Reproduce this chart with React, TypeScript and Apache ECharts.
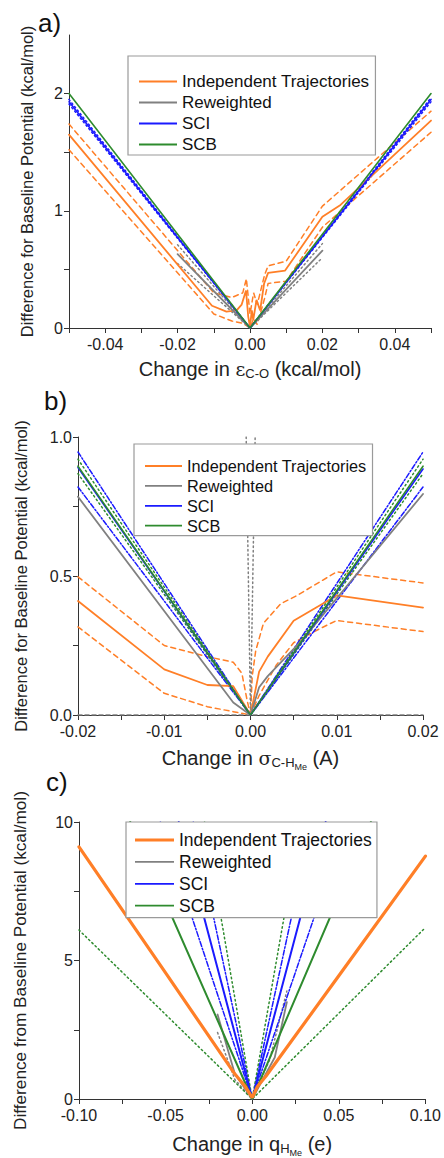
import React, { useEffect, useRef } from "react";
import * as echarts from "echarts";

// ---------- panel a: change in epsilon C-O ----------
const aItX = [-0.05, -0.0105, -0.0065, -0.0037, -0.0023, -0.0011, -0.0005, 0, 0.0005, 0.0009, 0.0018, 0.0028, 0.0039, 0.005, 0.0097, 0.02, 0.025, 0.05];
const aItY = [1.65, 0.19, 0.14, 0.15, 0.2, 0.32, 0.1, 0.01, 0.15, 0.07, 0.24, 0.15, 0.38, 0.47, 0.49, 0.95, 1.05, 1.77];
const aItHiX = [-0.05, -0.01, -0.005, -0.002, -0.001, 0, 0.001, 0.002, 0.004, 0.005, 0.01, 0.02, 0.05];
const aItHiY = [1.74, 0.3, 0.26, 0.3, 0.42, 0.12, 0.3, 0.2, 0.45, 0.53, 0.57, 1.04, 1.85];
const aItLoX = [-0.05, -0.01, -0.005, -0.002, 0, 0.001, 0.002, 0.004, 0.005, 0.01, 0.02, 0.05];
const aItLoY = [1.52, 0.12, 0.06, 0.04, 0, 0.08, 0.03, 0.25, 0.38, 0.4, 0.86, 1.67];
const aRwX = [-0.02, 0, 0.02];
const aRwY = [0.63, 0, 0.66];
const aRwHiY = [0.71, 0, 0.72];
const aRwLoY = [0.55, 0, 0.6];
const aScX = [-0.05, 0, 0.05];
const aSciY = [1.93, 0, 1.95];
const aSciHiY = [1.95, 0, 1.965];
const aSciLoY = [1.91, 0, 1.93];
const aScbY = [2.0, 0, 2.0];
const aXMajor = [-0.04, -0.02, 0, 0.02, 0.04];
const aXTicks = [-0.05, -0.04, -0.03, -0.02, -0.01, 0, 0.01, 0.02, 0.03, 0.04, 0.05];
const aYMajor = [0, 1, 2];
const aYTicks = [0, 0.5, 1, 1.5, 2];

// ---------- panel b: change in sigma C-H(Me) ----------
const bItX = [-0.02, -0.01, -0.005, -0.002, 0, 0.001, 0.002, 0.005, 0.01, 0.02];
const bItY = [0.41, 0.164, 0.108, 0.104, 0, 0.156, 0.21, 0.339, 0.43, 0.386];
const bItHiX = [-0.02, -0.01, -0.005, -0.002, -0.001, -0.0004, 0, 0.0002, 0.0006, 0.0015, 0.0035, 0.0054, 0.01, 0.02];
const bItHiY = [0.497, 0.25, 0.21, 0.19, 0.15, 0.054, 0, 0.14, 0.23, 0.33, 0.4, 0.43, 0.515, 0.475];
const bItLoX = [-0.02, -0.01, -0.005, -0.002, 0, 0.001, 0.003, 0.005, 0.008, 0.01, 0.02];
const bItLoY = [0.317, 0.078, 0.03, 0.012, 0, 0.07, 0.18, 0.26, 0.31, 0.34, 0.3];
const bRwX = [-0.02, -0.002, 0, 0.001, 0.002, 0.006, 0.01, 0.02];
const bRwY = [0.785, 0.045, 0, 0.1, 0.14, 0.27, 0.42, 0.795];
const bRwHiX = [-0.0005, 0, 0.00054];
const bRwHiY = [1.0, 0, 1.0];
const bRwLoX = [-0.02, 0, 0.02];
const bRwLoY = [0, 0, 0];
const bScX = [-0.02, 0, 0.02];
const bSciY = [0.89, 0, 0.885];
const bSciHiY = [0.946, 0, 0.946];
const bSciLoY = [0.82, 0, 0.82];
const bScbY = [0.895, 0, 0.895];
const bScbHiY = [0.92, 0, 0.92];
const bScbLoY = [0.868, 0, 0.868];
const bXMajor = [-0.02, -0.01, 0, 0.01, 0.02];
const bXTicks = [-0.02, -0.015, -0.01, -0.005, 0, 0.005, 0.01, 0.015, 0.02];
const bYMajor = [0, 0.5, 1.0];
const bYTicks = [0, 0.25, 0.5, 0.75, 1.0];

// ---------- panel c: change in q H(Me) ----------
const cItX = [-0.1, -0.05, -0.01, -0.004, 0, 0.003, 0.008, 0.05, 0.1];
const cItY = [9.1, 4.55, 0.9, 0.45, 0.05, 0.45, 0.83, 4.45, 8.77];
const cRwX = [-0.02, -0.01, 0, 0.013, 0.02];
const cRwY = [3.05, 0.9, 0, 1.5, 3.5];
const cRwHiX = [-0.02, -0.01, 0, 0.01, 0.02];
const cRwHiY = [2.4, 0.7, 0, 1.4, 3.9];
const cSciX = [-0.0424, 0, 0.0424];
const cSciY = [10, 0, 10];
const cSciHiX = [-0.034, 0, 0.0345];
const cSciHiY = [10, 0, 10];
const cSciLoX = [-0.053, 0, 0.0545];
const cSciLoY = [10, 0, 10];
const cScbX = [-0.0704, 0, 0.0685];
const cScbY = [10, 0, 10];
const cScbHiX = [-0.0275, 0, 0.028];
const cScbHiY = [10, 0, 10];
const cScbLoX = [-0.1, 0, 0.1];
const cScbLoY = [6.1, 0, 6.19];
const cXMajor = [-0.1, -0.05, 0, 0.05, 0.1];
const cXTicks = [-0.1, -0.075, -0.05, -0.025, 0, 0.025, 0.05, 0.075, 0.1];
const cYMajor = [0, 5, 10];
const cYTicks = [0, 2.5, 5, 7.5, 10];

const NAMES = ["Independent Trajectories", "Reweighted", "SCI", "SCB"];
const ORANGE = "#ff7f27";
const GRAY = "#808080";
const BLUE = "#1a1aff";
const GREEN = "#2e8b2e";
const AXIS = "#333";
const FONT = '"Liberation Sans", Arial, sans-serif';

const DASH = [5, 4];
const DOT = [1.5, 3];
const DASHDOT = [5, 2, 1.5, 2];

const pts = (xs: number[], ys: number[]) => xs.map((x, i) => [x, ys[i]]);

function line(name: string, g: number, xs: number[], ys: number[], color: string, width: number, type: any, z = 2) {
  return {
    type: "line",
    name,
    xAxisIndex: g,
    yAxisIndex: g,
    data: pts(xs, ys),
    symbol: "none",
    showSymbol: false,
    silent: true,
    z,
    lineStyle: { color, width, type, cap: "round" },
    itemStyle: { color },
  };
}

function xAxis(g: number, min: number, max: number, ticks: number[], major: number[], name: string, rich: any, gap: number) {
  return {
    type: "value",
    gridIndex: g,
    min,
    max,
    splitLine: { show: false },
    axisLine: { show: true, onZero: false, lineStyle: { color: AXIS, width: 1 } },
    axisTick: { show: true, customValues: ticks, length: 5, lineStyle: { color: AXIS } },
    axisLabel: {
      customValues: major,
      fontFamily: FONT,
      fontSize: 16,
      color: "#222",
      margin: 8,
      formatter: (v: number) => v.toFixed(2),
    },
    name,
    nameLocation: "middle",
    nameGap: gap,
    nameTextStyle: { fontFamily: FONT, fontSize: 20, color: "#222", rich },
  };
}

function yAxis(g: number, min: number, max: number, ticks: number[], major: number[], digits: number, name: string, size: number, gap: number) {
  return {
    type: "value",
    gridIndex: g,
    min,
    max,
    splitLine: { show: false },
    axisLine: { show: true, onZero: false, lineStyle: { color: AXIS, width: 1 } },
    axisTick: { show: true, customValues: ticks, length: 5, lineStyle: { color: AXIS } },
    axisLabel: {
      customValues: major,
      fontFamily: FONT,
      fontSize: 16,
      color: "#222",
      margin: 6,
      formatter: (v: number) => v.toFixed(digits),
    },
    name,
    nameLocation: "middle",
    nameRotate: 90,
    nameGap: gap,
    nameTextStyle: { fontFamily: FONT, fontSize: size, color: "#222" },
  };
}

// legend swatch: a plain horizontal stroke, no marker
const swatch = (w: number, h: number) => `path://M0,0H${w}V${h}H0Z`;

function legend(left: number, top: number, pad: number[], gap: number, fontSize: number, itemWidth: number, rowH: number, thickOrange: boolean) {
  return {
    orient: "vertical",
    left,
    top,
    padding: pad,
    itemGap: gap,
    itemWidth,
    itemHeight: rowH,
    backgroundColor: "#fff",
    borderColor: "#9a9a9a",
    borderWidth: 1.2,
    borderRadius: 0,
    selectedMode: false,
    z: 10,
    textStyle: { fontFamily: FONT, fontSize, color: "#111", lineHeight: rowH },
    data: NAMES.map((n, i) => ({
      name: n,
      icon: swatch(itemWidth, i === 0 && thickOrange ? 3.2 : 1.8),
    })),
  };
}

const subRich = {
  g: { fontFamily: '"DejaVu Serif", serif', fontSize: 19, color: "#222" },
  s: { fontFamily: FONT, fontSize: 13, color: "#222", padding: [9, 0, 0, 0] },
  ss: { fontFamily: FONT, fontSize: 9, color: "#222", padding: [18, 0, 0, 0] },
};

export default function App() {
  const ref = useRef<HTMLDivElement>(null);

  useEffect(() => {
    if (!ref.current) return;
    const chart = echarts.init(ref.current, null, { renderer: "svg" });

    const series = [
      // panel a
      line("a IT upper", 0, aItHiX, aItHiY, ORANGE, 1.5, DASH),
      line("a IT lower", 0, aItLoX, aItLoY, ORANGE, 1.5, DASH),
      line("a RW upper", 0, aRwX, aRwHiY, GRAY, 1.5, DOT),
      line("a RW lower", 0, aRwX, aRwLoY, GRAY, 1.5, DOT),
      line("a SCI upper", 0, aScX, aSciHiY, BLUE, 1.5, DOT),
      line("a SCI lower", 0, aScX, aSciLoY, BLUE, 1.5, DOT),
      line(NAMES[0], 0, aItX, aItY, ORANGE, 1.8, "solid", 3),
      line(NAMES[1], 0, aRwX, aRwY, GRAY, 1.8, "solid", 3),
      line(NAMES[2], 0, aScX, aSciY, BLUE, 1.6, "solid", 3),
      line(NAMES[3], 0, aScX, aScbY, GREEN, 1.6, "solid", 3),
      // panel b
      line("b IT upper", 1, bItHiX, bItHiY, ORANGE, 1.5, DASH),
      line("b IT lower", 1, bItLoX, bItLoY, ORANGE, 1.5, DASH),
      line("b RW upper", 1, bRwHiX, bRwHiY, GRAY, 1.5, DOT),
      line("b RW lower", 1, bRwLoX, bRwLoY, GRAY, 1.5, [4, 3]),
      line("b SCI upper", 1, bScX, bSciHiY, BLUE, 1.5, DASHDOT),
      line("b SCI lower", 1, bScX, bSciLoY, BLUE, 1.5, DASHDOT),
      line("b SCB upper", 1, bScX, bScbHiY, GREEN, 1.5, DOT),
      line("b SCB lower", 1, bScX, bScbLoY, GREEN, 1.5, DOT),
      line(NAMES[0], 1, bItX, bItY, ORANGE, 1.8, "solid", 3),
      line(NAMES[1], 1, bRwX, bRwY, GRAY, 1.8, "solid", 3),
      line(NAMES[2], 1, bScX, bSciY, BLUE, 1.6, "solid", 3),
      line(NAMES[3], 1, bScX, bScbY, GREEN, 1.6, "solid", 3),
      // panel c
      line("c RW band", 2, cRwHiX, cRwHiY, GRAY, 1.5, DOT),
      line("c SCI upper", 2, cSciHiX, cSciHiY, BLUE, 1.5, DASHDOT),
      line("c SCI lower", 2, cSciLoX, cSciLoY, BLUE, 1.5, DASHDOT),
      line("c SCB upper", 2, cScbHiX, cScbHiY, GREEN, 1.5, DOT),
      line("c SCB lower", 2, cScbLoX, cScbLoY, GREEN, 1.5, DOT),
      line(NAMES[1], 2, cRwX, cRwY, GRAY, 1.8, "solid", 3),
      line(NAMES[2], 2, cSciX, cSciY, BLUE, 2, "solid", 3),
      line(NAMES[3], 2, cScbX, cScbY, GREEN, 2, "solid", 3),
      line(NAMES[0], 2, cItX, cItY, ORANGE, 3.2, "solid", 4),
    ];

    chart.setOption({
      animation: false,
      backgroundColor: "#fff",
      grid: [
        { left: 69, top: 35, width: 362, height: 293 },
        { left: 78, top: 437, width: 345, height: 278 },
        { left: 79, top: 822, width: 347, height: 280 },
      ],
      xAxis: [
        xAxis(0, -0.05, 0.05, aXTicks, aXMajor, "Change in {g|ε}{s|C-O} (kcal/mol)", subRich, 30),
        xAxis(1, -0.02, 0.02, bXTicks, bXMajor, "Change in {g|σ}{s|C-H}{ss|Me} (A)", subRich, 29),
        xAxis(2, -0.1, 0.1, cXTicks, cXMajor, "Change in q{s|H}{ss|Me} (e)", subRich, 31),
      ],
      yAxis: [
        yAxis(0, 0, 2.5, aYTicks, aYMajor, 0, "Difference for Baseline Potential (kcal/mol)", 16.5, 34),
        yAxis(1, 0, 1.0, bYTicks, bYMajor, 1, "Difference for Baseline Potential (kcal/mol)", 16.5, 49),
        yAxis(2, 0, 10, cYTicks, cYMajor, 0, "Difference from Baseline Potential (kcal/mol)", 17.2, 51),
      ],
      legend: [
        legend(128, 56, [17, 6, 2, 11], 4, 17, 38, 14, false),
        legend(134, 444, [14, 6, 2, 11], 3.9, 16.3, 37, 14, false),
        legend(126, 822, [9, 5, 3, 9], 3.9, 17.5, 39, 15, true),
      ],
      graphic: [
        { type: "text", left: 38, top: 10, style: { text: "a)", fontFamily: FONT, fontSize: 26, fill: "#111" } },
        { type: "text", left: 44, top: 388, style: { text: "b)", fontFamily: FONT, fontSize: 26, fill: "#111" } },
        { type: "text", left: 46, top: 769, style: { text: "c)", fontFamily: FONT, fontSize: 26, fill: "#111" } },
      ],
      series,
    });

    return () => chart.dispose();
  }, []);

  return (
    <div
      ref={ref}
      style={{ position: "absolute", left: 0, top: 0, width: 444, height: 1158, background: "#fff" }}
    />
  );
}
